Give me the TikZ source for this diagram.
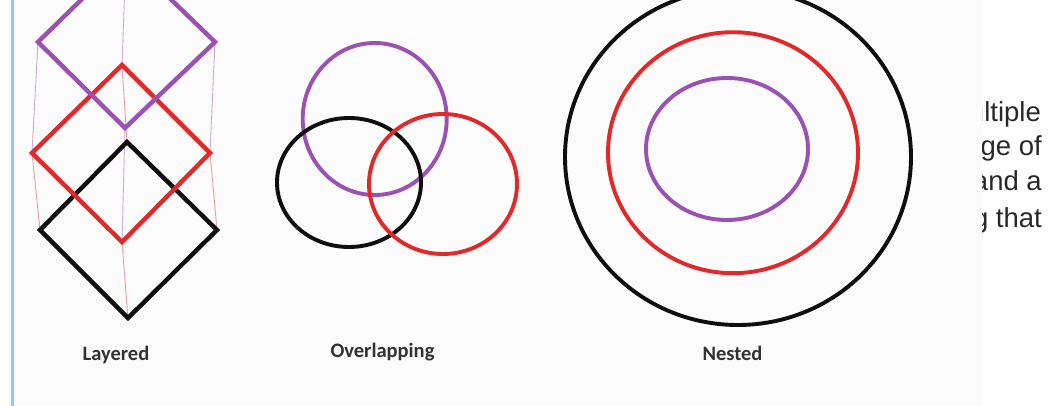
\documentclass[tikz,border=0pt]{standalone}
\usepackage{fontspec}
\setmainfont{Carlito}
\newfontfamily\arialfont{Liberation Sans}
\definecolor{dpurple}{RGB}{155,80,180}
\definecolor{dred}{RGB}{226,40,40}
\definecolor{dblack}{RGB}{15,15,15}
\definecolor{lpurple}{RGB}{205,170,222}
\definecolor{lred}{RGB}{232,160,160}
\definecolor{bgpanel}{RGB}{251,251,251}
\definecolor{sideblue}{RGB}{150,198,236}
\definecolor{txtgrey}{RGB}{40,40,40}
\definecolor{captgrey}{RGB}{50,50,50}
\begin{document}
\begin{tikzpicture}[x=1pt,y=-1pt,
  thickline/.style={line width=4.4pt,line join=miter},
  ringline/.style={line width=3.9pt},
  guide/.style={line width=0.9pt},
  caption/.style={font=\fontsize{20.5}{24}\selectfont\bfseries,text=captgrey,inner sep=0pt},
  sidetext/.style={font=\arialfont\fontsize{27.5}{30}\selectfont,text=txtgrey,anchor=base east,inner sep=0pt}]
\useasboundingbox (0,0) rectangle (1060,406);
\clip (0,0) rectangle (1060,406);
\fill[white] (0,0) rectangle (1060,406);
% right-hand text, partly covered by the picture panel
\node[sidetext] (t1) at (1041,122) {ultiple};
\node[sidetext] (t2) at (1042,156) {nge of};
\node[sidetext] (t3) at (1042,191) {and a};
\node[sidetext] (t4) at (1042,227) {g that};
% picture panel
\fill[bgpanel] (14,0) rectangle (982,406);
\fill[sideblue] (11,0) rectangle (14,406);
% layered diamonds
\coordinate (pT) at (126,-44); \coordinate (pL) at (38,42); \coordinate (pR) at (215,42); \coordinate (pB) at (125,128);
\coordinate (rT) at (122,65); \coordinate (rL) at (32,153); \coordinate (rR) at (210,153); \coordinate (rB) at (122,242);
\coordinate (bT) at (127,142); \coordinate (bL) at (40,230); \coordinate (bR) at (217,230); \coordinate (bB) at (128,318);
\draw[guide,lpurple] (pT) -- (rT) (pL) -- (rL) (pR) -- (rR) (pB) -- (rB);
\draw[guide,lred] (rT) -- (bT) (rL) -- (bL) (rR) -- (bR) (rB) -- (bB);
\draw[thickline,dblack] (bT) -- (bR) -- (bB) -- (bL) -- cycle;
\draw[thickline,dred] (rT) -- (rR) -- (rB) -- (rL) -- cycle;
\draw[thickline,dpurple] (pT) -- (pR) -- (pB) -- (pL) -- cycle;
% overlapping circles
\draw[ringline,dpurple] (374.7,119) ellipse [x radius=72, y radius=76];
\draw[ringline,dblack] (349,182.5) ellipse [x radius=72, y radius=64.5];
\draw[ringline,dred] (443,184) ellipse [x radius=74, y radius=70];
% nested circles
\draw[ringline,dblack] (738,157) ellipse [x radius=173, y radius=168];
\draw[ringline,dred] (733,152.7) ellipse [x radius=125, y radius=120.5];
\draw[ringline,dpurple] (727,149) ellipse [x radius=81, y radius=71];
% captions
\node[caption] (c1) at (116,355) {Layered};
\node[caption] (c2) at (382.5,352) {Overlapping};
\node[caption] (c3) at (732.5,353) {Nested};
\end{tikzpicture}
\end{document}
